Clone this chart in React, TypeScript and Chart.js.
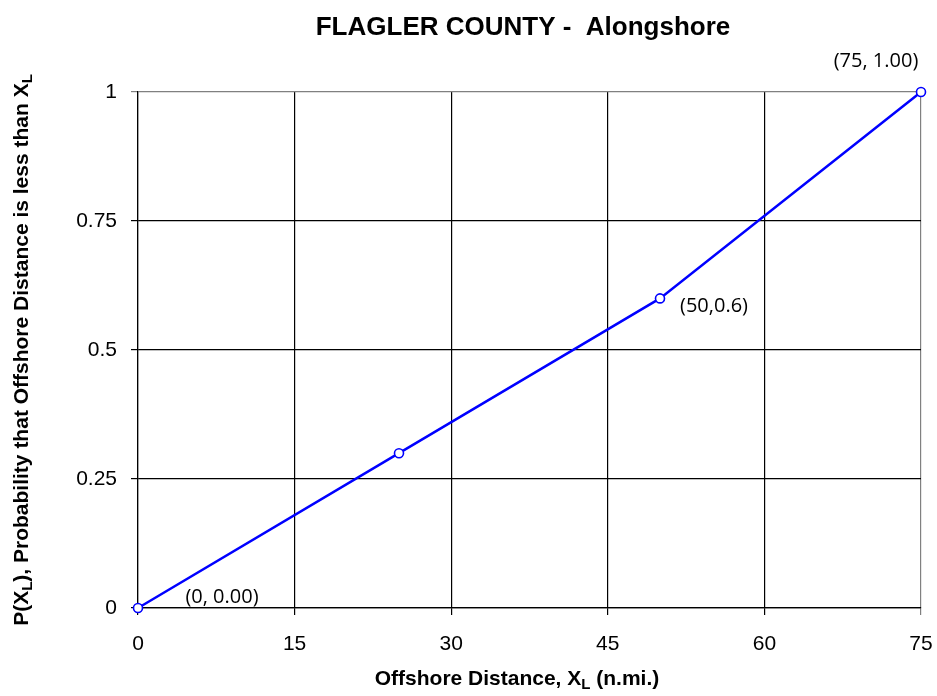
import React, { useEffect, useRef } from "react";
import { Chart, registerables } from "chart.js";

Chart.register(...registerables);

const xValues = [0, 25, 50, 75];
const yValues = [0, 0.3, 0.6, 1.0];
const pointLabels = ["(0, 0.00)", "", "(50,0.6)", "(75, 1.00)"];
const xTicks = [0, 15, 30, 45, 60, 75];
const yTicks = [0, 0.25, 0.5, 0.75, 1];
const titleText = "FLAGLER COUNTY -  Alongshore";

const labelOffsets = [
  { dx: 84, dy: -11, align: "center" },
  { dx: 0, dy: 0, align: "center" },
  { dx: 20, dy: 8, align: "left" },
  { dx: -45, dy: -31, align: "center" },
];

const ARIAL = "'Liberation Sans', Arial, sans-serif";

function drawSubText(
  ctx: CanvasRenderingContext2D,
  parts: { t: string; sub?: boolean }[],
  size: number,
  family: string
) {
  const big = `bold ${size}px ${family}`;
  const small = `bold ${Math.round(size * 0.72)}px ${family}`;
  let total = 0;
  for (const p of parts) {
    ctx.font = p.sub ? small : big;
    total += ctx.measureText(p.t).width;
  }
  let x = -total / 2;
  ctx.textAlign = "left";
  ctx.textBaseline = "middle";
  for (const p of parts) {
    ctx.font = p.sub ? small : big;
    ctx.fillText(p.t, x, p.sub ? size * 0.3 : 0);
    x += ctx.measureText(p.t).width;
  }
}

const customText = {
  id: "customText",
  afterDraw(chart: any) {
    const ctx: CanvasRenderingContext2D = chart.ctx;
    ctx.save();
    ctx.fillStyle = "#000";
    // title
    ctx.font = `bold 26px ${ARIAL}`;
    ctx.textAlign = "center";
    ctx.textBaseline = "middle";
    ctx.fillText(titleText, 523, 28);

    // x axis title
    ctx.save();
    ctx.translate(517, 679);
    drawSubText(
      ctx,
      [{ t: "Offshore Distance, X" }, { t: "L", sub: true }, { t: " (n.mi.)" }],
      21,
      ARIAL
    );
    ctx.restore();

    // y axis title
    ctx.save();
    ctx.translate(22, 350);
    ctx.rotate(-Math.PI / 2);
    drawSubText(
      ctx,
      [
        { t: "P(X" },
        { t: "L", sub: true },
        { t: "), Probability that Offshore Distance is less than X" },
        { t: "L", sub: true },
      ],
      21,
      ARIAL
    );
    ctx.restore();

    // point labels
    const meta = chart.getDatasetMeta(0);
    ctx.font = "20px 'Open Sans', 'Noto Sans', sans-serif";
    ctx.textBaseline = "middle";
    meta.data.forEach((pt: any, i: number) => {
      const txt = pointLabels[i];
      if (!txt) return;
      const o = labelOffsets[i];
      ctx.textAlign = o.align as CanvasTextAlign;
      ctx.fillText(txt, pt.x + o.dx, pt.y + o.dy);
    });
    ctx.restore();
  },
};

export default function App() {
  const ref = useRef<HTMLCanvasElement>(null);
  useEffect(() => {
    document.body.style.margin = "0";
    const canvas = ref.current!;
    const chart = new Chart(canvas, {
      type: "scatter",
      data: {
        datasets: [
          {
            data: xValues.map((x, i) => ({ x, y: yValues[i] })),
            showLine: true,
            clip: false,
            borderColor: "#0000FF",
            borderWidth: 2.5,
            pointRadius: 4.5,
            pointBorderWidth: 1.6,
            pointBackgroundColor: "#FFFFFF",
            pointBorderColor: "#0000FF",
            tension: 0,
          },
        ],
      },
      options: {
        animation: false,
        responsive: false,
        layout: { padding: { top: 92, right: 16, left: 0, bottom: 0 } },
        plugins: {
          legend: { display: false },
          tooltip: { enabled: false },
          title: { display: false },
        },
        scales: {
          x: {
            type: "linear",
            min: 0,
            max: 75,
            afterBuildTicks: (s: any) => {
              s.ticks = xTicks.map((v) => ({ value: v }));
            },
            afterFit: (s: any) => {
              s.height = 88;
              s.paddingLeft = 0;
              s.paddingRight = 0;
            },
            ticks: {
              color: "#000",
              padding: 17,
              callback: (v: any) => String(v),
              font: { size: 21, family: ARIAL },
            },
            grid: {
              color: (c: any) => (c.tick && c.tick.value === 75 ? "#808080" : "#000"),
              lineWidth: 1.2,
              tickLength: 7,
            },
            border: { color: "#000", width: 1.2 },
          },
          y: {
            type: "linear",
            min: 0,
            max: 1,
            afterBuildTicks: (s: any) => {
              s.ticks = yTicks.map((v) => ({ value: v }));
            },
            afterFit: (s: any) => {
              s.width = 138;
              s.paddingTop = 0;
              s.paddingBottom = 0;
            },
            ticks: {
              color: "#000",
              padding: 14,
              callback: (v: any) => String(v),
              font: { size: 21, family: ARIAL },
            },
            grid: {
              color: (c: any) => (c.tick && c.tick.value === 1 ? "#808080" : "#000"),
              lineWidth: 1.2,
              tickLength: 7,
            },
            border: { color: "#000", width: 1.2 },
          },
        },
      },
      plugins: [customText],
    });
    return () => chart.destroy();
  }, []);
  return (
    <div style={{ width: 937, height: 696, background: "#fff" }}>
      <canvas ref={ref} width={937} height={696} style={{ display: "block" }} />
    </div>
  );
}
